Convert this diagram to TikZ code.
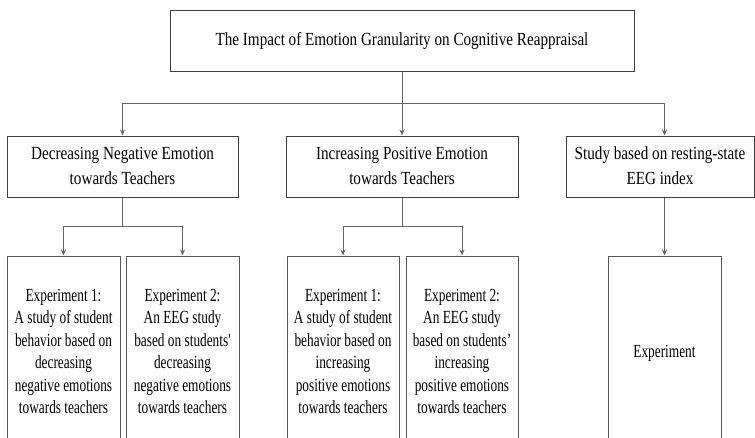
\documentclass[tikz,border=0pt]{standalone}
\usepackage{fontspec}
\setmainfont{Liberation Serif}
\usepackage{graphicx}
\usetikzlibrary{arrows.meta}
\newcommand{\boxtxt}[2]{\scalebox{#1}[1]{\begin{tabular}{@{}c@{}}#2\end{tabular}}}
\begin{document}
\begin{tikzpicture}[x=1pt,y=-1pt,
  box/.style={draw=black!75,line width=1pt,inner sep=0pt,minimum height=61pt,
    font=\fontsize{18.5}{25}\selectfont},
  expbox/.style={draw=black!65,line width=1pt,inner sep=0pt,minimum height=194pt,
    font=\fontsize{18.5}{22.4}\selectfont},
  conn/.style={draw=black!60,line width=1pt},
  arr/.style={conn,-{Stealth[length=6pt,width=5pt]}}]
\useasboundingbox (0,0) rectangle (755,437);
\clip (0,0) rectangle (755,437);
\node[box,minimum width=464pt] (title) at (402,40.5)
  {\boxtxt{0.818}{The Impact of Emotion Granularity on Cognitive Reappraisal}};
\node[box,minimum width=231pt] (A) at (122.5,166.5)
  {\boxtxt{0.82}{Decreasing Negative Emotion\\towards Teachers}};
\node[box,minimum width=232pt] (B) at (402,166.5)
  {\boxtxt{0.82}{Increasing Positive Emotion\\towards Teachers}};
\node[box,minimum width=188pt] (C) at (660,166.5)
  {\boxtxt{0.82}{Study based on resting-state\\EEG index}};
\node[expbox,minimum width=113pt] (A1) at (63.5,353)
  {\boxtxt{0.72}{Experiment 1:\\A study of student\\behavior based on\\decreasing\\negative emotions\\towards teachers}};
\node[expbox,minimum width=113pt] (A2) at (182.5,353)
  {\boxtxt{0.72}{Experiment 2:\\An EEG study\\based on students\textquotesingle\\decreasing\\negative emotions\\towards teachers}};
\node[expbox,minimum width=112pt] (B1) at (343,353)
  {\boxtxt{0.72}{Experiment 1:\\A study of student\\behavior based on\\increasing\\positive emotions\\towards teachers}};
\node[expbox,minimum width=112pt] (B2) at (462,353)
  {\boxtxt{0.72}{Experiment 2:\\An EEG study\\based on students’\\increasing\\positive emotions\\towards teachers}};
\node[expbox,minimum width=113pt] (C1) at (664.5,353)
  {\boxtxt{0.72}{Experiment}};
\coordinate (j0) at (402,103);
\coordinate (ja) at (122.5,226);
\coordinate (jb) at (402,226);
\draw[conn] (title.south) -- (j0);
\draw[arr] (j0) -| (A.north);
\draw[arr] (j0) -- (B.north);
\draw[arr] (j0) -| ([xshift=4.5pt]C.north);
\draw[conn] (A.south) -- (ja);
\draw[arr] (ja) -| (A1.north);
\draw[arr] (ja) -| (A2.north);
\draw[conn] (B.south) -- (jb);
\draw[arr] (jb) -| (B1.north);
\draw[arr] (jb) -| (B2.north);
\draw[arr] ([xshift=4.5pt]C.south) -- (C1.north);
\end{tikzpicture}
\end{document}
